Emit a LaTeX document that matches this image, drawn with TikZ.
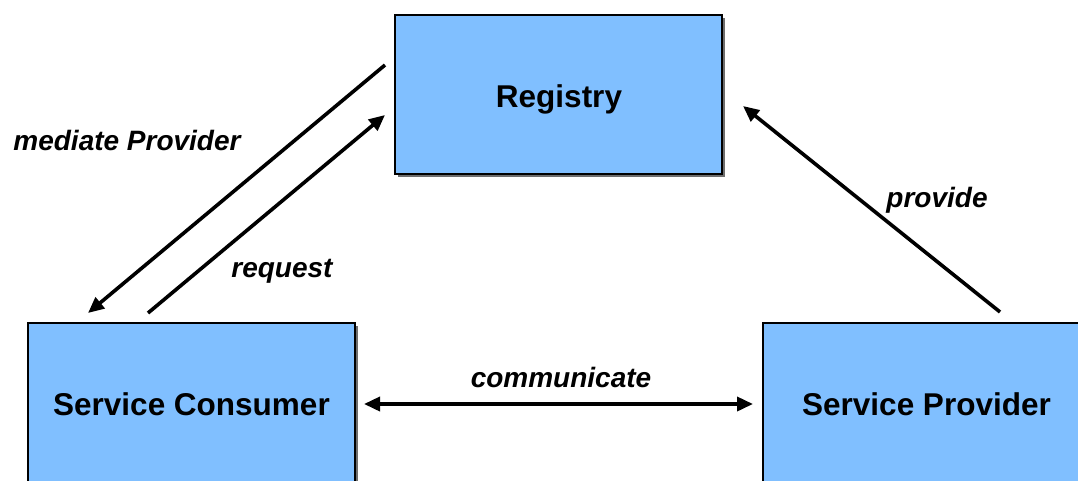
\documentclass[tikz,border=0pt]{standalone}
\usepackage{fontspec}
\setmainfont{Liberation Sans}
\usetikzlibrary{arrows.meta}
\definecolor{boxblue}{RGB}{128,191,255}
\definecolor{shadowgrey}{RGB}{110,110,110}
\begin{document}
\begin{tikzpicture}[x=1pt,y=-1pt,
  box/.style={draw=black,line width=1.2pt,fill=boxblue,minimum width=327pt,minimum height=159pt,inner sep=0pt},
  boxtext/.style={anchor=base,inner sep=0pt,font=\fontsize{31.5}{36}\selectfont\bfseries},
  shadowbox/.style={fill=shadowgrey,minimum width=327pt,minimum height=159pt,inner sep=0pt},
  tip/.style={Triangle[length=16pt,width=14pt]},
  conn/.style={line width=3.6pt,-{Triangle[length=16pt,width=14pt]}},
  biconn/.style={line width=3.6pt,{Triangle[length=16pt,width=14pt]}-{Triangle[length=16pt,width=14pt]}},
  lbl/.style={font=\fontsize{28}{32}\selectfont\bfseries\itshape,inner sep=0pt,anchor=base}]
\useasboundingbox (0,0) rectangle (1078,480);
\clip (0,0) rectangle (1078,480);
\fill[white] (0,0) rectangle (1078,480);
% shadows
\node[shadowbox] at (561.5,97.5) {};
\node[shadowbox] at (194.5,405.5) {};
\node[shadowbox] at (929.5,405.5) {};
% boxes
\node[box] (reg) at (558.5,94.5) {};
\node[box] (con) at (191.5,402.5) {};
\node[box] (pro) at (926.5,402.5) {};
\node[boxtext] (regt) at (559,107) {Registry};
\node[boxtext] (cont) at (191.5,415) {Service Consumer};
\node[boxtext] (prot) at (926.5,415) {Service Provider};
% connector end points
\coordinate (m1) at (385,65);
\coordinate (m2) at (88,313);
\coordinate (r1) at (148,313);
\coordinate (r2) at (385,115);
\coordinate (p1) at (1000,312);
\coordinate (p2) at (743,106);
\coordinate (c1) at (364,404);
\coordinate (c2) at (753,404);
\draw[conn] (m1) -- (m2);
\draw[conn] (r1) -- (r2);
\draw[conn] (p1) -- (p2);
\draw[biconn] (c1) -- (c2);
% labels
\node[lbl] (lm) at (127,150) {mediate Provider};
\node[lbl] (lr) at (282,277) {request};
\node[lbl] (lp) at (937,207) {provide};
\node[lbl] (lc) at (561,387) {communicate};
\end{tikzpicture}
\end{document}
